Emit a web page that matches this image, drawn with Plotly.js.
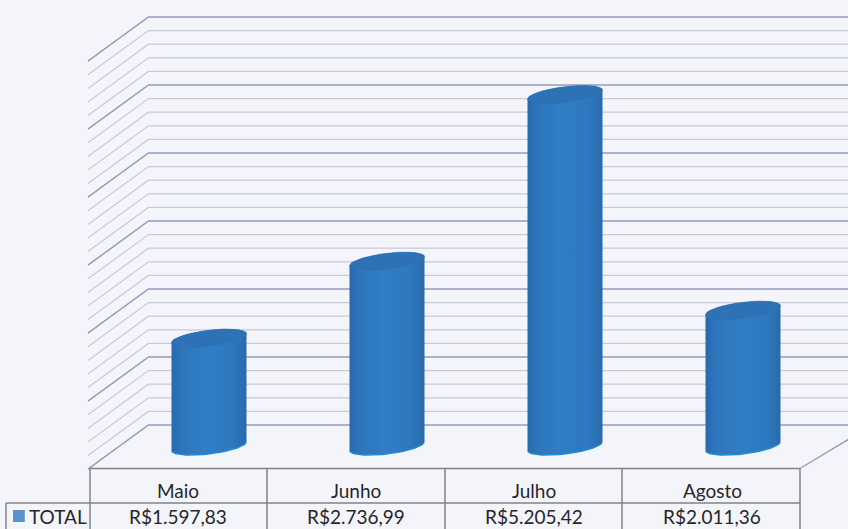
<!DOCTYPE html>
<html><head><meta charset="utf-8">
<script src="https://cdn.plot.ly/plotly-3.0.1.min.js"></script>
<style>html,body{margin:0;padding:0;background:#f4f5fa}#c{width:848px;height:529px}</style>
</head><body><div id="c"></div>
<script>
const categories = ["Maio","Junho","Julho","Agosto"];
const seriesName = "TOTAL";
const totals = [1597.83,2736.99,5205.42,2011.36];
const tableLabels = ["R$1.597,83","R$2.736,99","R$5.205,42","R$2.011,36"];
const majorGrid = [0,1000,2000,3000,4000,5000,6000];
const minorGrid = [200,400,600,800,1200,1400,1600,1800,2200,2400,2600,2800,3200,3400,3600,3800,4200,4400,4600,4800,5200,5400,5600,5800];

// 3-D look: back wall and side wall ends, radius and tilt of the cylinder ends (axis units)
const wallBackX = -0.34, wallFrontX = -0.68, depthV = 650, rightX = 4;
const radX = 0.2107, radV = 118, tiltV = 66;
// the table columns sit left of the bars in the 3-D projection
const tableShift = -0.174;

function wall(vals){
  const x=[], y=[];
  vals.forEach(v=>{ x.push(wallFrontX,wallBackX,rightX,null); y.push(v-depthV,v,v,null); });
  return {x,y};
}
function arc(c,v,from,to,n){
  const xs=[], ys=[];
  for(let k=0;k<=n;k++){
    const t=from+(to-from)*k/n;
    xs.push(c+radX*Math.cos(t));
    ys.push(v+radV*Math.sin(t)+tiltV*Math.cos(t));
  }
  return {xs,ys};
}
const grad = {type:"horizontal",colorscale:[[0,"#2869aa"],[0.12,"#2d75ba"],[0.45,"#307ec5"],[0.8,"#2e79bf"],[1,"#286bac"]]};
const traces = [];
const mj = wall(majorGrid), mn = wall(minorGrid);
traces.push({type:"scatter",mode:"lines",x:mn.x,y:mn.y,line:{color:"#c5cadc",width:1.2},hoverinfo:"skip",showlegend:false});
traces.push({type:"scatter",mode:"lines",x:mj.x,y:mj.y,line:{color:"#949cba",width:1.5},hoverinfo:"skip",showlegend:false});

totals.forEach((v,i)=>{
  const top=arc(i,v,Math.PI,0,40), bot=arc(i,0,0,-Math.PI,40);
  traces.push({type:"scatter",mode:"lines",yaxis:"y2",x:top.xs.concat(bot.xs),y:top.ys.concat(bot.ys),
    fill:"toself",fillgradient:grad,line:{color:"rgba(0,0,0,0)",width:0},name:categories[i],hoverinfo:"skip",showlegend:false});
  const rim=arc(i,0,-0.1,-Math.PI+0.1,40);
  traces.push({type:"scatter",mode:"lines",yaxis:"y2",x:rim.xs,y:rim.ys,line:{color:"#2489d8",width:1.4},hoverinfo:"skip",showlegend:false});
  const cap=arc(i,v,0,2*Math.PI,60);
  traces.push({type:"scatter",mode:"lines",yaxis:"y2",x:cap.xs,y:cap.ys,fill:"toself",fillcolor:"#2d72b5",
    line:{color:"rgba(45,114,181,0.6)",width:1},hoverinfo:"skip",showlegend:false});
});

const py = px => 1-px/529;
const L="#808288";
const shapes = [];
function seg(x0,y0,x1,y1,w){shapes.push({type:"line",xref:"x",yref:"paper",x0,x1,y0:py(y0),y1:py(y1),line:{color:L,width:w||1.5},layer:"above"});}
const colEdges=[-0.6685,0.3258,1.3258,2.3202,3.3202];
colEdges.forEach(b=>seg(b,468.5,b,529));
seg(colEdges[0],468.5,colEdges[4],468.5,1.7);
seg(-1.1404,503,colEdges[4],503);
seg(-1.1404,503,-1.1404,529);
traces.push({type:"scatter",mode:"lines",x:[colEdges[4],colEdges[4]+0.33],y:[-640,-120],line:{color:"#949cba",width:1.3},hoverinfo:"skip",showlegend:false});
shapes.push({type:"rect",xref:"x",yref:"paper",x0:-1.101,x1:-1.035,y0:py(522),y1:py(510),fillcolor:"#5a90cc",line:{width:0},layer:"above"});

const font={family:"Lato, 'Open Sans', sans-serif",size:19,color:"#26262a"};
const annotations=[];
const note=(x,y,text)=>annotations.push({x,xref:"x",y:py(y),yref:"paper",text,showarrow:false,font,xanchor:"center",yanchor:"middle"});
categories.forEach((c,i)=>{
  note(i+tableShift,490,c);
  note(i+tableShift,516,tableLabels[i]);
});
note(-0.85,516,seriesName);

const layout={
  width:848,height:529,margin:{l:0,r:0,t:0,b:0},
  paper_bgcolor:"#f4f5fa",plot_bgcolor:"#f4f5fa",showlegend:false,
  xaxis:{range:[-1.17416,3.58989],visible:false,fixedrange:true},
  yaxis:{range:[-1529.41,6250],visible:false,fixedrange:true},
  yaxis2:{range:[-1229.6,6607.4],visible:false,overlaying:"y",fixedrange:true},
  shapes,annotations
};
Plotly.newPlot("c",traces,layout,{displayModeBar:false,staticPlot:true});
</script></body></html>
